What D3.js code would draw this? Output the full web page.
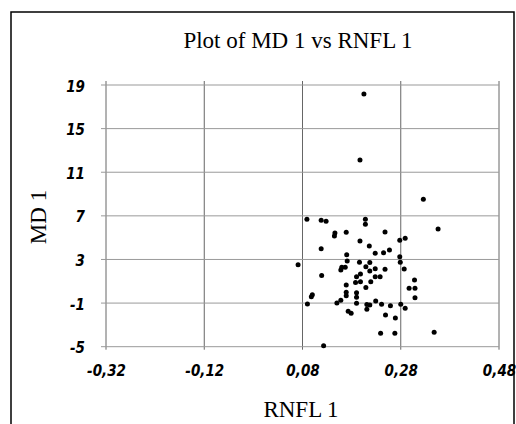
<!DOCTYPE html>
<html>
<head>
<meta charset="utf-8">
<script src="https://cdn.jsdelivr.net/npm/d3@7"></script>
<style>
  body { margin: 0; background: #fff; }
  .tick text { font-family: "Liberation Sans Narrow", "DejaVu Sans Condensed", "Liberation Sans", sans-serif; font-weight: bold; font-style: italic; font-size: 15px; fill: #000; }
</style>
</head>
<body>
<div id="chart"></div>
<script>
// RNFL 1 (x) and MD 1 (y)
const rnfl = [0.205, 0.197, 0.326, 0.089, 0.118, 0.128, 0.208, 0.208, 0.356, 0.146,
  0.145, 0.169, 0.248, 0.278, 0.289, 0.197, 0.118, 0.216, 0.257, 0.245,
  0.228, 0.170, 0.278, 0.279, 0.071, 0.171, 0.196, 0.217, 0.160, 0.158,
  0.167, 0.209, 0.228, 0.248, 0.287, 0.217, 0.198, 0.119, 0.190, 0.228,
  0.238, 0.188, 0.198, 0.219, 0.308, 0.169, 0.209, 0.297, 0.309, 0.100,
  0.098, 0.169, 0.169, 0.190, 0.190, 0.309, 0.158, 0.229, 0.150, 0.090,
  0.190, 0.211, 0.217, 0.241, 0.259, 0.280, 0.211, 0.289, 0.173, 0.179,
  0.249, 0.269, 0.239, 0.268, 0.348, 0.123];
const md = [18.17, 12.12, 8.52, 6.68, 6.59, 6.50, 6.68, 6.22, 5.79, 5.43,
  5.15, 5.49, 5.52, 4.76, 4.94, 4.69, 3.99, 4.23, 3.87, 3.62,
  3.57, 3.44, 3.25, 2.74, 2.52, 2.86, 2.74, 2.72, 2.28, 2.03,
  2.28, 2.34, 2.15, 2.10, 2.12, 1.94, 1.67, 1.53, 1.42, 1.42,
  1.42, 0.89, 0.96, 0.96, 1.12, 0.66, 0.43, 0.36, 0.36, -0.23,
  -0.41, -0.01, -0.32, -0.05, -0.47, -0.51, -0.74, -0.81, -0.99, -1.08,
  -1.02, -1.13, -1.18, -1.11, -1.24, -1.11, -1.57, -1.48, -1.75, -1.94,
  -2.09, -2.37, -3.77, -3.77, -3.68, -4.91];
const xTicks = [-0.32, -0.12, 0.08, 0.28, 0.48];
const yTicks = [-5, -1, 3, 7, 11, 15, 19];

const width = 516, height = 424;
const svg = d3.select("#chart").append("svg")
  .attr("width", width).attr("height", height);

// outer frame
svg.append("rect")
  .attr("x", 11).attr("y", 12)
  .attr("width", 503).attr("height", 430)
  .attr("fill", "none").attr("stroke", "#000").attr("stroke-width", 1.5);

var x = d3.scaleLinear().domain([-0.32, 0.48]).range([106, 499]);
var y = d3.scaleLinear().domain([-5, 19]).range([346.7, 85]);

var fmt = d => d.toFixed(2).replace(".", ",");

// vertical grid
svg.append("g")
  .selectAll("line")
  .data(xTicks)
  .enter().append("line")
  .attr("x1", d => x(d)).attr("x2", d => x(d))
  .attr("y1", y(19) - 4).attr("y2", y(-5) + 3)
  .attr("stroke", "#666").attr("stroke-width", 1);

// horizontal grid
svg.append("g")
  .selectAll("line")
  .data(yTicks)
  .enter().append("line")
  .attr("x1", x(-0.32) - 5).attr("x2", x(0.48))
  .attr("y1", d => y(d)).attr("y2", d => y(d))
  .attr("stroke", "#999").attr("stroke-width", 1);

// axis labels via d3 axes, lines hidden
var xAxis = svg.append("g")
  .attr("transform", "translate(0,362)")
  .call(d3.axisBottom(x).tickValues(xTicks).tickFormat(fmt).tickSize(0));
xAxis.select(".domain").remove();

var yAxis = svg.append("g")
  .attr("transform", "translate(88,0)")
  .call(d3.axisLeft(y).tickValues(yTicks).tickFormat(d => String(d)).tickSize(0));
yAxis.select(".domain").remove();
yAxis.selectAll(".tick text").attr("dy", "0.4em");

// points
svg.append("g")
  .selectAll("circle")
  .data(rnfl.map((v, i) => [v, md[i]]))
  .enter().append("circle")
  .attr("cx", d => x(d[0]))
  .attr("cy", d => y(d[1]))
  .attr("r", 2.5)
  .attr("fill", "#000");

// titles
svg.append("text")
  .attr("x", 298).attr("y", 48)
  .attr("text-anchor", "middle")
  .style("font-family", "Liberation Serif, serif")
  .style("font-size", "23px")
  .text("Plot of MD 1 vs RNFL 1");

svg.append("text")
  .attr("x", 301).attr("y", 417)
  .attr("text-anchor", "middle")
  .style("font-family", "Liberation Serif, serif")
  .style("font-size", "23px")
  .text("RNFL 1");

svg.append("text")
  .attr("transform", "translate(46,217) rotate(-90)")
  .attr("text-anchor", "middle")
  .style("font-family", "Liberation Serif, serif")
  .style("font-size", "23px")
  .text("MD 1");
</script>
</body>
</html>
